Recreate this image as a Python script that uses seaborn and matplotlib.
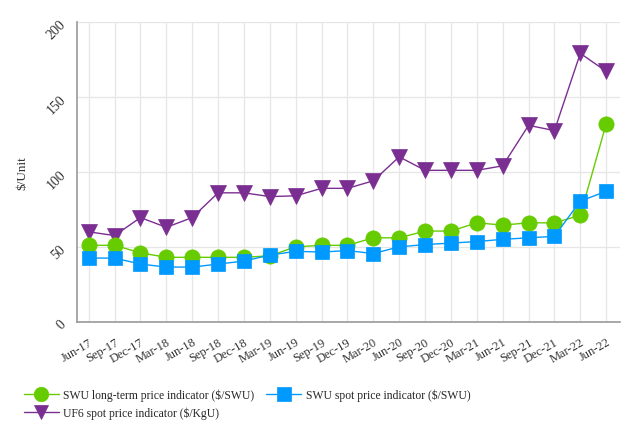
import numpy as np
import pandas as pd
import matplotlib
matplotlib.use('Agg')
from matplotlib import pyplot as plt
import seaborn as sns

quarters = ['Jun-17', 'Sep-17', 'Dec-17', 'Mar-18', 'Jun-18', 'Sep-18', 'Dec-18',
            'Mar-19', 'Jun-19', 'Sep-19', 'Dec-19', 'Mar-20', 'Jun-20', 'Sep-20',
            'Dec-20', 'Mar-21', 'Jun-21', 'Sep-21', 'Dec-21', 'Mar-22', 'Jun-22']
swu_long_term = [51, 51, 46, 43, 43, 43, 43, 44, 50, 51, 51, 56, 56, 60.5,
                 60.5, 66, 64.5, 66, 66, 71, 132]
swu_spot = [42.5, 42.5, 38.5, 36.5, 36.5, 38.5, 40.5, 44.5, 47, 46.5, 47.5,
            45.5, 50, 51.5, 52.5, 53.5, 55, 56, 57, 80.5, 87]
uf6_spot = [60, 57.5, 69.5, 63, 69.5, 86, 86, 83.5, 84, 89, 89, 94, 110, 101,
            101, 101, 104, 131, 127.5, 179, 167]

green = '#66CC00'
blue = '#0099FF'
purple = '#7A2E91'

sns.set_style('white')
plt.rcParams['font.family'] = ['Liberation Serif', 'DejaVu Serif']

fig = plt.figure(figsize=(6.4, 4.31), dpi=100)
ax = fig.add_axes([0.120, 0.251, 0.849, 0.696])

pos = np.arange(len(quarters))
df = pd.DataFrame({'pos': pos, 'lt': swu_long_term, 'spot': swu_spot, 'uf6': uf6_spot})

series = [('lt', 'SWU long-term price indicator ($/SWU)', green, 'o', 11),
          ('uf6', 'UF6 spot price indicator ($/KgU)', purple, 'v', 11),
          ('spot', 'SWU spot price indicator ($/SWU)', blue, 's', 10.5)]

# purple first, then green, blue on top
for col, label, color, mk, ms in [series[1], series[0], series[2]]:
    sns.lineplot(data=df, x='pos', y=col, ax=ax, color=color, marker=mk,
                 markersize=ms, markeredgecolor=color, markeredgewidth=0.5,
                 linewidth=1.0, label=label, sort=False)

ax.set_xlim(-0.46, len(quarters) - 1 + 0.54)
ax.set_ylim(0, 200)
ax.set_yticks([0, 50, 100, 150, 200])
ax.set_xticks(pos)
ax.set_xticklabels(quarters, rotation=30, ha='right', rotation_mode='anchor', fontsize=9)
for t in ax.get_yticklabels():
    t.set_rotation(45)
    t.set_fontsize(10)
    t.set_color('#333333')
for t in ax.get_xticklabels():
    t.set_color('#333333')
ax.tick_params(axis='y', length=0, pad=6)
ax.tick_params(axis='x', length=0, pad=10)
ax.set_xlabel('')
ax.set_ylabel('$/Unit', fontsize=9.5, labelpad=12, color='#333333')

ax.grid(True, color='#e6e6e6', linewidth=0.9)
ax.set_axisbelow(True)
for s in ['top', 'right']:
    ax.spines[s].set_visible(False)
for s in ['left', 'bottom']:
    ax.spines[s].set_color('#999999')
    ax.spines[s].set_linewidth(1.2)

handles, labels = ax.get_legend_handles_labels()
order = [labels.index(series[0][1]), labels.index(series[1][1]), labels.index(series[2][1])]
ax.legend([handles[i] for i in order], [labels[i] for i in order],
          loc='upper left', bbox_to_anchor=(-0.098, -0.222), ncol=2, frameon=False,
          fontsize=8.4, handlelength=3.0, handletextpad=0.4, columnspacing=1.0,
          labelspacing=0.45, borderaxespad=0, borderpad=0, markerscale=0.95)

fig.savefig('out.png', dpi=100)
